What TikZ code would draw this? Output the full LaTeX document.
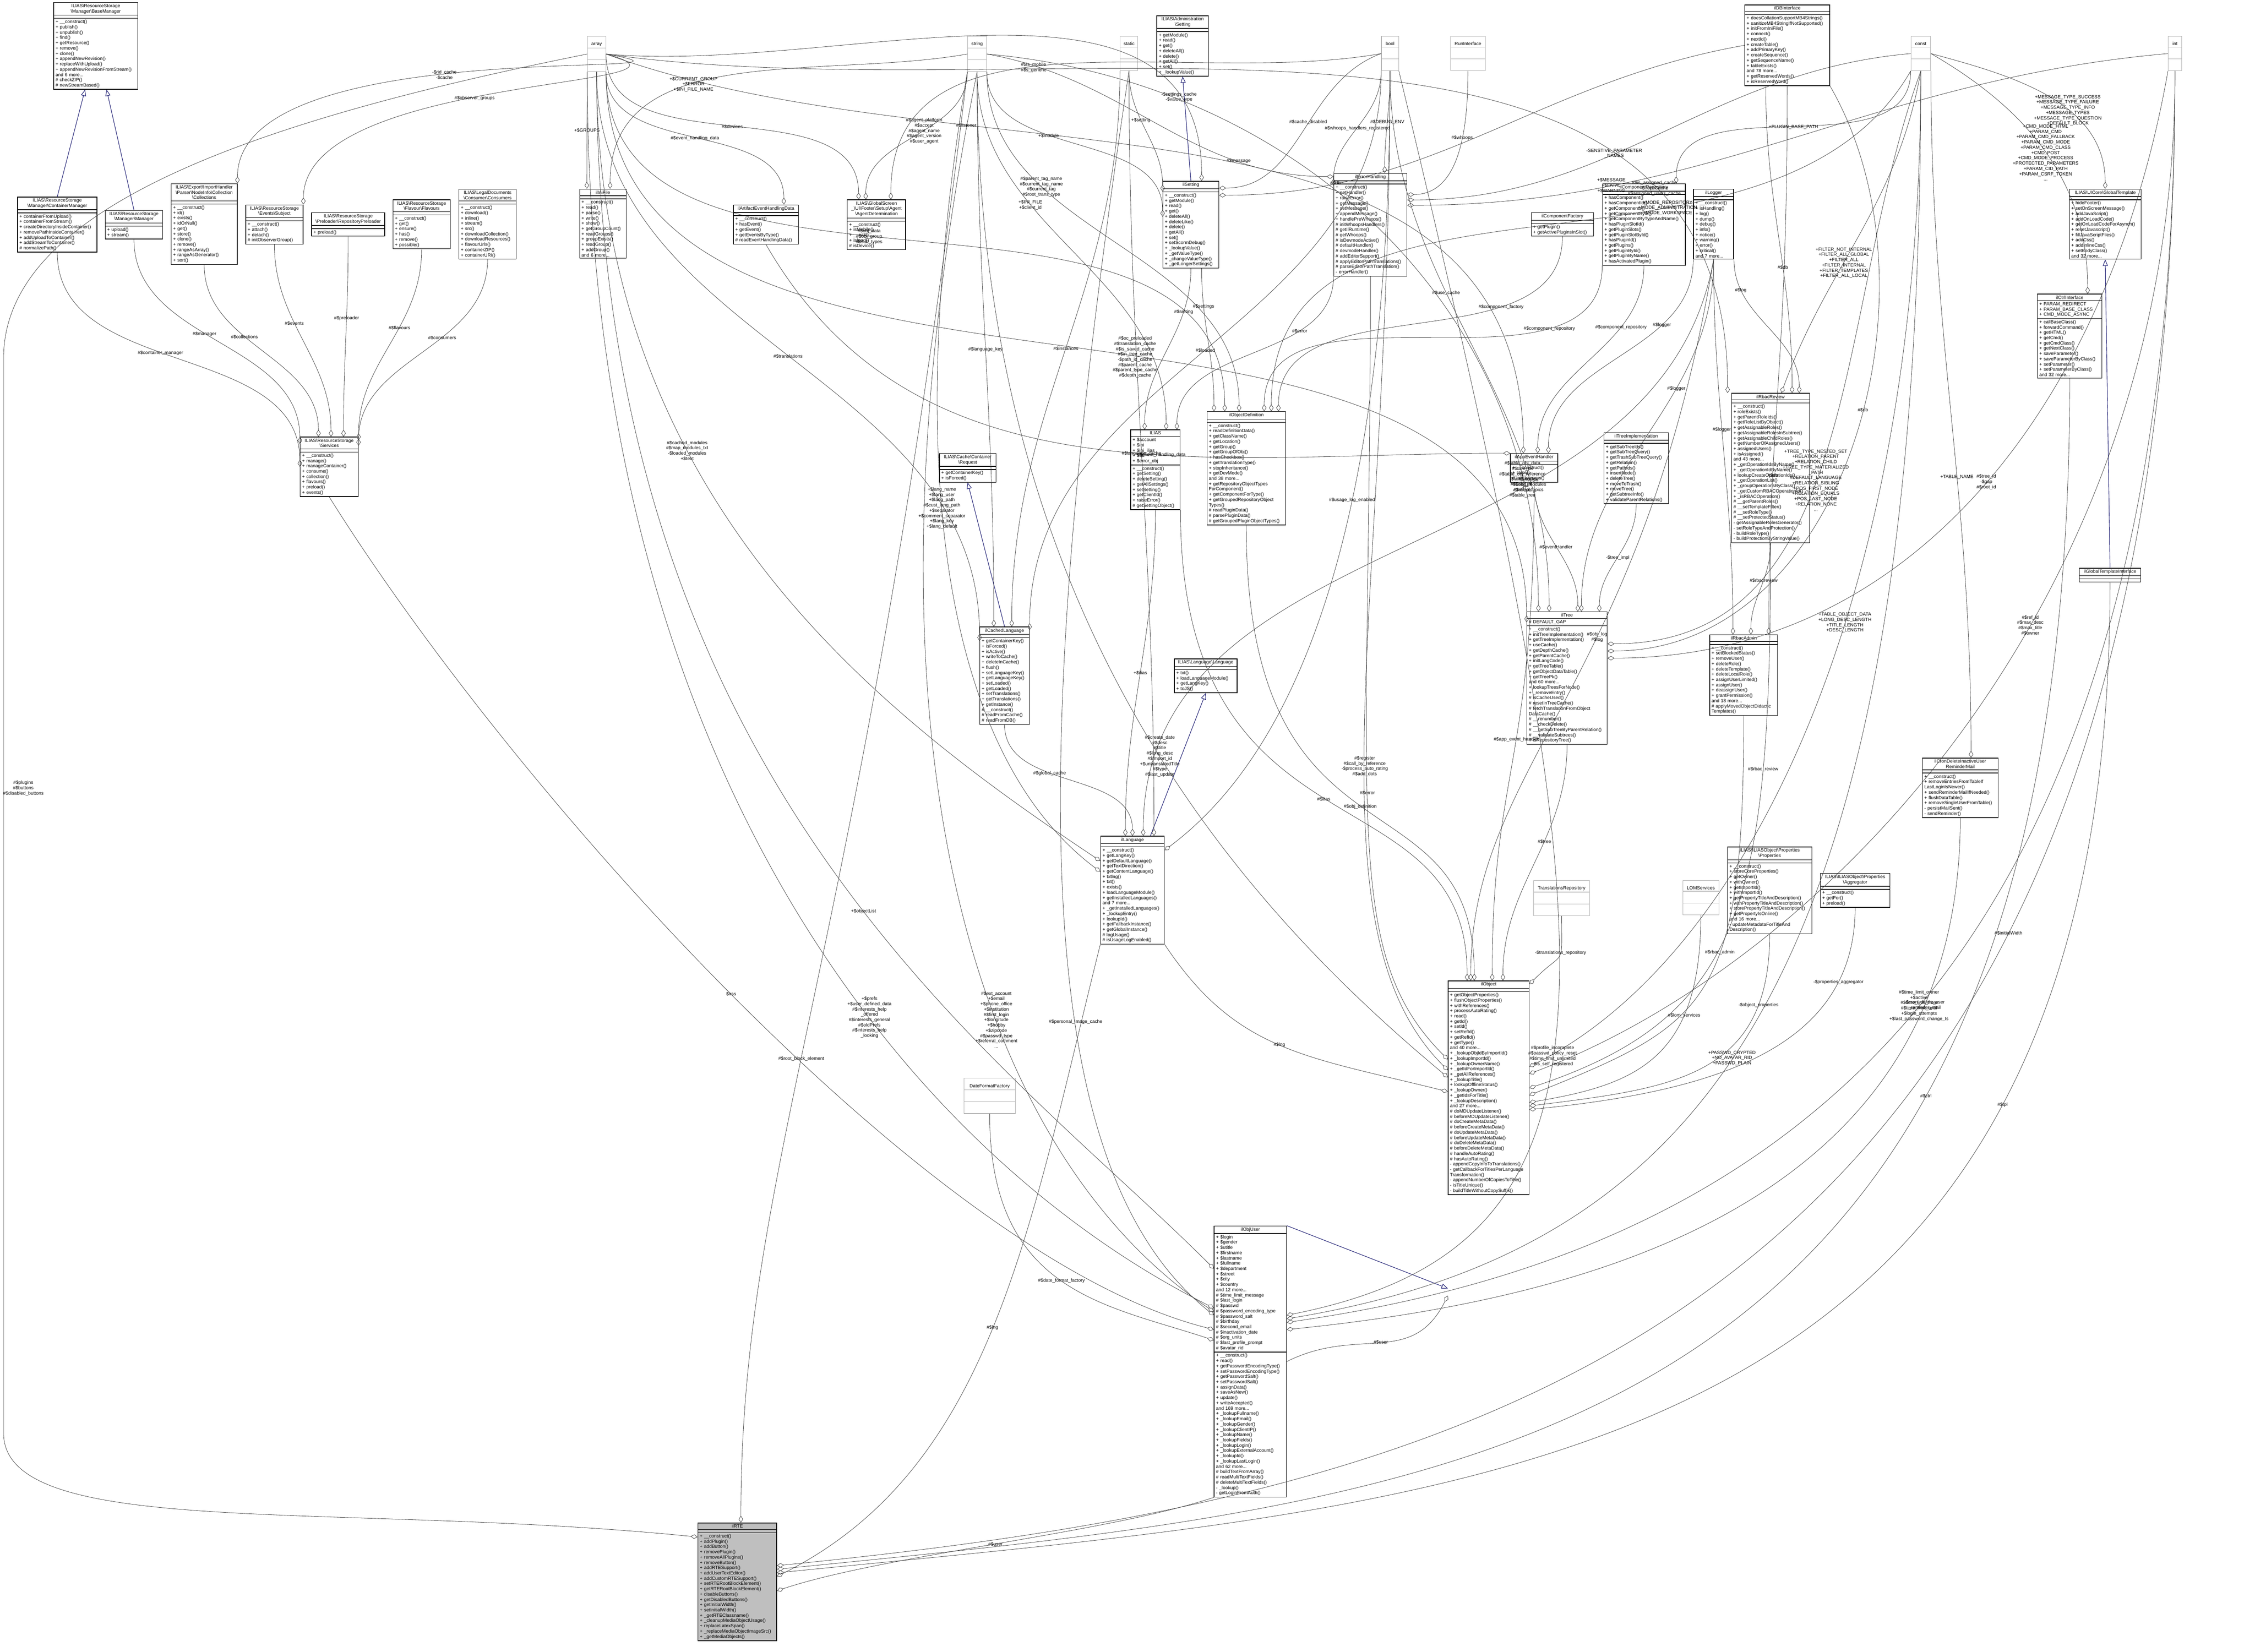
\documentclass[tikz,border=0pt]{standalone}
\usepackage{fontspec}
\setmainfont{Liberation Sans}
\usetikzlibrary{shapes.multipart,arrows.meta}
\definecolor{navy}{RGB}{25,25,112}
\definecolor{rtegray}{RGB}{191,191,191}
\newcommand\bs{\textbackslash}
\newcommand\fs{\fontsize{3.7}{4.2}\selectfont}
\tikzset{
 cls/.style={rectangle split,rectangle split parts=3,draw,line width=0.5pt,anchor=north west,font=\fs,inner xsep=1.5pt,inner ysep=1pt},
 tbox/.style={rectangle split,rectangle split parts=3,draw=black!30,line width=0.4pt,anchor=north west,font=\fs,inner sep=1pt,align=center},
 agg/.style={draw=black!75,line width=0.3pt,-{Diamond[open,length=5.5pt,width=3.5pt]}},
 inh/.style={draw=navy,line width=0.4pt,-{Triangle[open,length=5pt,width=4pt]}},
 lbl/.style={font=\fs,align=center,inner sep=0.5pt},
 vv/.style={out=-90,in=90},
}
\newcommand\C[7]{\node[cls,text width=#4cm-3pt] (#1) at (#2,-#3) {\centering #5\par\nodepart{second}\raggedright #6\par\nodepart{third}\raggedright #7\par};}
\newcommand\Ty[4]{\node[tbox,text width=#4cm-2pt] (#1) at (#2,-#3) {\rule{0pt}{6pt}#1\nodepart{second}\rule{0pt}{7pt}\nodepart{third}\rule{0pt}{7pt}};}
\begin{document}
\begin{tikzpicture}
\useasboundingbox (0,0) rectangle (62.94,-46.11);
% ---------- type boxes
\Ty{array}{16.39}{1.01}{0.51}
\Ty{string}{27.00}{1.01}{0.53}
\Ty{static}{31.26}{1.01}{0.49}
\Ty{bool}{38.55}{1.01}{0.48}
\node[tbox,text width=0.97cm-2pt] (RunInterface) at (40.48,-1.01) {\rule{0pt}{6pt}RunInterface\nodepart{second}\rule{0pt}{7pt}\nodepart{third}\rule{0pt}{7pt}};
\Ty{const}{53.33}{1.01}{0.55}
\Ty{int}{60.51}{1.01}{0.38}
\node[tbox,text width=1.43cm-2pt] (DateFormatFactory) at (26.90,-30.09) {\rule{0pt}{6pt}DateFormatFactory\nodepart{second}\rule{0pt}{7pt}\nodepart{third}\rule{0pt}{7pt}};
\node[tbox,text width=1.56cm-2pt] (TransRepo) at (42.80,-24.57) {\rule{0pt}{6pt}TranslationsRepository\nodepart{second}\rule{0pt}{7pt}\nodepart{third}\rule{0pt}{7pt}};
\node[tbox,text width=1.01cm-2pt] (LOM) at (46.96,-24.57) {\rule{0pt}{6pt}LOMServices\nodepart{second}\rule{0pt}{7pt}\nodepart{third}\rule{0pt}{7pt}};
% ---------- classes
\C{BaseManager}{1.49}{0.06}{2.35}{ILIAS\bs ResourceStorage\\\bs Manager\bs BaseManager}{\mbox{}}{+ \_\_construct()\\+ publish()\\+ unpublish()\\+ find()\\+ getResource()\\+ remove()\\+ clone()\\+ appendNewRevision()\\+ replaceWithUpload()\\+ appendNewRevisionFromStream()\\and 6 more...\\\# checkZIP()\\\# newStreamBased()}
\C{ContainerManager}{0.48}{5.49}{2.22}{ILIAS\bs ResourceStorage\\\bs Manager\bs ContainerManager}{\mbox{}}{+ containerFromUpload()\\+ containerFromStream()\\+ createDirectoryInsideContainer()\\+ removePathInsideContainer()\\+ addUploadToContainer()\\+ addStreamToContainer()\\\# normalizePath()}
\C{RSManager}{2.93}{5.86}{1.60}{ILIAS\bs ResourceStorage\\\bs Manager\bs Manager}{\mbox{}}{+ upload()\\+ stream()}
\C{Collections}{4.77}{5.12}{1.84}{ILIAS\bs Export\bs ImportHandler\\\bs Parser\bs NodeInfo\bs Collection\\\bs Collections}{\mbox{}}{+ \_\_construct()\\+ id()\\+ exists()\\+ idOrNull()\\+ get()\\+ store()\\+ clone()\\+ remove()\\+ rangeAsArray()\\+ rangeAsGenerator()\\+ sort()}
\C{Subject}{6.85}{5.71}{1.60}{ILIAS\bs ResourceStorage\\\bs Events\bs Subject}{\mbox{}}{+ \_\_construct()\\+ attach()\\+ detach()\\\# initObserverGroup()}
\C{Preloader}{8.69}{5.93}{2.04}{ILIAS\bs ResourceStorage\\\bs Preloader\bs RepositoryPreloader}{\mbox{}}{+ preload()}
\C{Flavours}{10.96}{5.57}{1.60}{ILIAS\bs ResourceStorage\\\bs Flavour\bs Flavours}{\mbox{}}{+ \_\_construct()\\+ get()\\+ ensure()\\+ has()\\+ remove()\\+ possible()}
\C{Consumers}{12.80}{5.27}{1.60}{ILIAS\bs LegalDocuments\\\bs Consumer\bs Consumers}{\mbox{}}{+ \_\_construct()\\+ download()\\+ inline()\\+ stream()\\+ src()\\+ downloadCollection()\\+ downloadResources()\\+ flavourUrls()\\+ containerZIP()\\+ containerURI()}
\C{Services}{8.37}{12.19}{1.62}{ILIAS\bs ResourceStorage\\\bs Services}{\mbox{}}{+ \_\_construct()\\+ manage()\\+ manageContainer()\\+ consume()\\+ collection()\\+ flavours()\\+ preload()\\+ events()}
\C{ilIniFile}{16.17}{5.27}{1.30}{ilIniFile}{\mbox{}}{+ \_\_construct()\\+ read()\\+ parse()\\+ write()\\+ show()\\+ getGroupCount()\\+ readGroups()\\+ groupExists()\\+ readGroup()\\+ addGroup()\\and 6 more...}
\C{ArtEvt}{20.46}{5.71}{1.82}{ilArtifactEventHandlingData}{\mbox{}}{+ \_\_construct()\\+ hasEvent()\\+ getEvent()\\+ getEventsByType()\\\# readEventHandlingData()}
\C{Agent}{23.64}{5.57}{1.63}{ILIAS\bs GlobalScreen\\\_\bs UI\bs Footer\bs Setup\bs Agent\\\bs AgentDetermination}{\mbox{}}{+ \_\_construct()\\+ isMobile()\\+ \_\_call()\\+ isIpad()\\\# isDevice()}
\C{AdminSetting}{32.28}{0.43}{1.44}{ILIAS\bs Administration\\\bs Setting}{\mbox{}}{+ getModule()\\+ read()\\+ get()\\+ deleteAll()\\+ delete()\\+ getAll()\\+ set()\\+ \_lookupValue()}
\C{ilSetting}{32.45}{5.05}{1.56}{ilSetting}{\mbox{}}{+ \_\_construct()\\+ getModule()\\+ read()\\+ get()\\+ deleteAll()\\+ deleteLike()\\+ delete()\\+ getAll()\\+ set()\\+ setScormDebug()\\+ \_lookupValue()\\+ \_getValueType()\\+ \_changeValueType()\\+ \_getLongerSettings()}
\C{ilErrorHandling}{37.22}{4.83}{2.04}{ilErrorHandling}{\mbox{}}{+ \_\_construct()\\+ getHandler()\\+ raiseError()\\+ getMessage()\\+ setMessage()\\+ appendMessage()\\+ handlePreWhoops()\\\# initWhoopsHandlers()\\\# getIlRuntime()\\\# getWhoops()\\\# isDevmodeActive()\\\# defaultHandler()\\\# devmodeHandler()\\\# addEditorSupport()\\\# applyEditorPathTranslations()\\\# parseEditorPathTranslation()\\- errorHandler()}
\C{ilComponentFactory}{42.73}{5.93}{1.74}{ilComponentFactory}{\mbox{}}{+ getPlugin()\\+ getActivePluginsInSlot()}
\C{ilComponentRepository}{44.72}{5.12}{2.31}{ilComponentRepository}{\mbox{}}{+ hasComponent()\\+ hasComponentId()\\+ getComponents()\\+ getComponentById()\\+ getComponentByTypeAndName()\\+ hasPluginSlotId()\\+ getPluginSlots()\\+ getPluginSlotById()\\+ hasPluginId()\\+ getPlugins()\\+ getPluginById()\\+ getPluginByName()\\+ hasActivatedPlugin()}
\C{ilLogger}{47.26}{5.27}{1.12}{ilLogger}{\mbox{}}{+ \_\_construct()\\+ isHandling()\\+ log()\\+ dump()\\+ debug()\\+ info()\\+ notice()\\+ warning()\\+ error()\\+ critical()\\and 7 more...}
\C{ilDBInterface}{48.69}{0.13}{2.37}{ilDBInterface}{\mbox{}}{+ doesCollationSupportMB4Strings()\\+ sanitizeMB4StringIfNotSupported()\\+ initFromIniFile()\\+ connect()\\+ nextId()\\+ createTable()\\+ addPrimaryKey()\\+ createSequence()\\+ getSequenceName()\\+ tableExists()\\and 78 more...\\+ getReservedWords()\\+ isReservedWord()}
\C{GlobalTemplate}{57.75}{5.27}{2.00}{ILIAS\bs UICore\bs GlobalTemplate}{\mbox{}}{+ hideFooter()\\+ setOnScreenMessage()\\+ addJavaScript()\\+ addOnLoadCode()\\+ getOnLoadCodeForAsynch()\\+ resetJavascript()\\+ fillJavaScriptFiles()\\+ addCss()\\+ addInlineCss()\\+ setBodyClass()\\and 32 more...}
\C{ilCtrlInterface}{56.86}{8.20}{1.80}{ilCtrlInterface}{+ PARAM\_REDIRECT\\+ PARAM\_BASE\_CLASS\\+ CMD\_MODE\_ASYNC}{+ callBaseClass()\\+ forwardCommand()\\+ getHTML()\\+ getCmd()\\+ getCmdClass()\\+ getNextClass()\\+ saveParameter()\\+ saveParameterByClass()\\+ setParameter()\\+ setParameterByClass()\\and 32 more...}
\C{CacheRequest}{26.21}{12.65}{1.58}{ILIAS\bs Cache\bs Container\\\bs Request}{\mbox{}}{+ getContainerKey()\\+ isForced()}
\C{ilCachedLanguage}{27.34}{17.49}{1.38}{ilCachedLanguage}{\mbox{}}{+ getContainerKey()\\+ isForced()\\+ isActive()\\+ writeToCache()\\+ deleteInCache()\\+ flush()\\+ setLanguageKey()\\+ getLanguageKey()\\+ setLoaded()\\+ getLoaded()\\+ setTranslations()\\+ getTranslations()\\+ getInstance()\\\# \_\_construct()\\\# readFromCache()\\\# readFromDB()}
\C{ILIAS}{31.55}{11.99}{1.38}{ILIAS}{+ \$account\\+ \$ini\\+ \$ini\_ilias\\+ \$db\\+ \$error\_obj}{+ \_\_construct()\\+ getSetting()\\+ deleteSetting()\\+ getAllSettings()\\+ setSetting()\\+ getClientId()\\+ raiseError()\\\# getSettingObject()}
\C{ilObjDef}{33.68}{11.48}{2.19}{ilObjectDefinition}{\mbox{}}{+ \_\_construct()\\+ readDefinitionData()\\+ getClassName()\\+ getLocation()\\+ getGroup()\\+ getGroupOfObj()\\+ hasCheckbox()\\+ getTranslationType()\\+ stopInheritance()\\+ getDevMode()\\and 38 more...\\+ getRepositoryObjectTypes\\ForComponent()\\+ getComponentForType()\\+ getGroupedRepositoryObject\\Types()\\\# readPluginData()\\\# parsePluginData()\\\# getGroupedPluginObjectTypes()}
\C{LangLanguage}{32.77}{18.38}{1.75}{ILIAS\bs Language\bs Language}{\mbox{}}{+ txt()\\+ loadLanguageModule()\\+ getLangKey()\\+ toJS()}
\C{ilAppEventHandler}{42.15}{12.65}{1.32}{ilAppEventHandler}{\mbox{}}{+ \_\_construct()\\+ raise()\\\# initListeners()}
\C{ilTree}{42.61}{17.07}{2.24}{ilTree}{\# DEFAULT\_GAP}{+ \_\_construct()\\+ initTreeImplementation()\\+ getTreeImplementation()\\+ useCache()\\+ getDepthCache()\\+ getParentCache()\\+ initLangCode()\\+ getTreeTable()\\+ getObjectDataTable()\\+ getTreePk()\\and 60 more...\\+ lookupTreesForNode()\\+ \_removeEntry()\\\# isCacheUsed()\\\# resetInTreeCache()\\\# fetchTranslationFromObject\\DataCache()\\\# \_\_renumber()\\\# \_\_checkDelete()\\\# \_\_getSubTreeByParentRelation()\\\# \_\_validateSubtrees()\\\# isRepositoryTree()}
\C{ilTreeImpl}{44.76}{12.07}{1.80}{ilTreeImplementation}{\mbox{}}{+ getSubTreeIds()\\+ getSubTreeQuery()\\+ getTrashSubTreeQuery()\\+ getRelation()\\+ getPathIds()\\+ insertNode()\\+ deleteTree()\\+ moveToTrash()\\+ moveTree()\\+ getSubtreeInfo()\\+ validateParentRelations()}
\C{ilRbacReview}{48.32}{10.97}{2.18}{ilRbacReview}{\mbox{}}{+ \_\_construct()\\+ roleExists()\\+ getParentRoleIds()\\+ getRoleListByObject()\\+ getAssignableRoles()\\+ getAssignableRolesInSubtree()\\+ getAssignableChildRoles()\\+ getNumberOfAssignedUsers()\\+ assignedUsers()\\+ isAssigned()\\and 43 more...\\+ \_getOperationIdsByName()\\+ \_getOperationIdByName()\\+ lookupCreateOperationIds()\\+ \_getOperationList()\\+ \_groupOperationsByClass()\\+ \_getCustomRBACOperationId()\\+ \_isRBACOperation()\\\# \_\_getParentRoles()\\\# \_\_setTemplateFilter()\\\# \_\_setRoleType()\\\# \_\_setProtectedStatus()\\- getAssignableRolesGenerator()\\- setRoleTypeAndProtection()\\- buildRoleType()\\- buildProtectionByStringValue()}
\C{ilRbacAdmin}{47.71}{17.71}{1.90}{ilRbacAdmin}{\mbox{}}{+ \_\_construct()\\+ setBlockedStatus()\\+ removeUser()\\+ deleteRole()\\+ deleteTemplate()\\+ deleteLocalRole()\\+ assignUserLimited()\\+ assignUser()\\+ deassignUser()\\+ grantPermission()\\and 18 more...\\\# applyMovedObjectDidactic\\Templates()}
\C{ilGTI}{58.03}{15.85}{1.71}{ilGlobalTemplateInterface}{\mbox{}}{\mbox{}}
\C{ilLanguage}{30.71}{23.33}{1.78}{ilLanguage}{\mbox{}}{+ \_\_construct()\\+ getLangKey()\\+ getDefaultLanguage()\\+ getTextDirection()\\+ getContentLanguage()\\+ txtlng()\\+ txt()\\+ exists()\\+ loadLanguageModule()\\+ getInstalledLanguages()\\and 7 more...\\+ \_getInstalledLanguages()\\+ \_lookupEntry()\\+ lookupId()\\+ getFallbackInstance()\\+ getGlobalInstance()\\\# logUsage()\\\# isUsageLogEnabled()}
\C{ilObject}{40.41}{27.37}{2.26}{ilObject}{\mbox{}}{+ getObjectProperties()\\+ flushObjectProperties()\\+ withReferences()\\+ processAutoRating()\\+ read()\\+ getId()\\+ setId()\\+ setRefId()\\+ getRefId()\\+ getType()\\and 40 more...\\+ \_lookupObjIdByImportId()\\+ \_lookupImportId()\\+ \_lookupOwnerName()\\+ \_getIdForImportId()\\+ \_getAllReferences()\\+ \_lookupTitle()\\+ lookupOfflineStatus()\\+ \_lookupOwner()\\+ \_getIdsForTitle()\\+ \_lookupDescription()\\and 27 more...\\\# doMDUpdateListener()\\\# beforeMDUpdateListener()\\\# doCreateMetaData()\\\# beforeCreateMetaData()\\\# doUpdateMetaData()\\\# beforeUpdateMetaData()\\\# doDeleteMetaData()\\\# beforeDeleteMetaData()\\\# handleAutoRating()\\\# hasAutoRating()\\- appendCopyInfoToTranslations()\\- getCallbackForTitlesPerLanguage\\Transformation()\\- appendNumberOfCopiesToTitle()\\- isTitleUnique()\\- buildTitleWithoutCopySuffix()}
\C{Properties}{48.21}{23.63}{2.35}{ILIAS\bs ILIASObject\bs Properties\\\bs Properties}{\mbox{}}{+ \_\_construct()\\+ storeCoreProperties()\\+ getOwner()\\+ withOwner()\\+ getImportId()\\+ withImportId()\\+ getPropertyTitleAndDescription()\\+ withPropertyTitleAndDescription()\\+ storePropertyTitleAndDescription()\\+ getPropertyIsOnline()\\and 16 more...\\- updateMetadataForTitleAnd\\Description()}
\C{Aggregator}{50.80}{24.37}{1.94}{ILIAS\bs ILIASObject\bs Properties\\\bs Aggregator}{\mbox{}}{+ \_\_construct()\\+ getFor()\\+ preload()}
\C{ilCron}{53.65}{21.15}{2.11}{ilCronDeleteInactiveUser\\ReminderMail}{\mbox{}}{+ \_\_construct()\\+ removeEntriesFromTableIf\\LastLoginIsNewer()\\+ sendReminderMailIfNeeded()\\+ flushDataTable()\\+ removeSingleUserFromTable()\\- persistMailSent()\\- sendReminder()}
\C{ilObjUser}{33.88}{34.21}{2.02}{ilObjUser}{+ \$login\\+ \$gender\\+ \$utitle\\+ \$firstname\\+ \$lastname\\+ \$fullname\\+ \$department\\+ \$street\\+ \$city\\+ \$country\\and 12 more...\\\# \$time\_limit\_message\\\# \$last\_login\\\# \$passwd\\\# \$password\_encoding\_type\\\# \$password\_salt\\\# \$birthday\\\# \$second\_email\\\# \$inactivation\_date\\\# \$org\_units\\\# \$last\_profile\_prompt\\\# \$avatar\_rid}{+ \_\_construct()\\+ read()\\+ getPasswordEncodingType()\\+ setPasswordEncodingType()\\+ getPasswordSalt()\\+ setPasswordSalt()\\+ assignData()\\+ saveAsNew()\\+ update()\\+ writeAccepted()\\and 169 more...\\+ \_lookupFullname()\\+ \_lookupEmail()\\+ \_lookupGender()\\+ \_lookupClientIP()\\+ \_lookupName()\\+ \_lookupFields()\\+ \_lookupLogin()\\+ \_lookupExternalAccount()\\+ \_lookupId()\\+ \_lookupLastLogin()\\and 62 more...\\\# buildTextFromArray()\\\# readMultiTextFields()\\\# deleteMultiTextFields()\\- \_lookup()\\- getLoginFromAuth()}
\node[cls,fill=rtegray,text width=2.20cm-3pt] (ilRTE) at (19.47,-42.50) {\centering ilRTE\par\nodepart{second}\mbox{}\nodepart{third}\raggedright + \_\_construct()\\+ addPlugin()\\+ addButton()\\+ removePlugin()\\+ removeAllPlugins()\\+ removeButton()\\+ addRTESupport()\\+ addUserTextEditor()\\+ addCustomRTESupport()\\+ setRTERootBlockElement()\\+ getRTERootBlockElement()\\+ disableButtons()\\+ getDisabledButtons()\\+ getInitialWidth()\\+ setInitialWidth()\\+ \_getRTEClassname()\\+ \_cleanupMediaObjectUsage()\\+ replaceLatexSpan()\\+ \_replaceMediaObjectImageSrc()\\+ \_getMediaObjects()\par};
% ---------- inheritance
\draw[inh] (ContainerManager.north) -- ([xshift=-0.3cm]BaseManager.south);
\draw[inh] (RSManager.north) -- ([xshift=0.3cm]BaseManager.south);
\draw[inh] (ilSetting.north) -- (AdminSetting.south);
\draw[inh] (ilCachedLanguage.north) -- (CacheRequest.south);
\draw[inh] ([xshift=0.5cm]ilLanguage.north) -- (LangLanguage.south);
\draw[inh] (ilGTI.north) -- (GlobalTemplate.south);
\draw[inh] (ilObjUser.north east) -- ([yshift=-5.6cm]ilObject.west);
% ---------- aggregation
\draw[agg] (array.east) to[out=-10,in=90] node[lbl,pos=0.55]{-\$rid\_cache\\-\$cache} (Collections.north east);
\draw[agg] (array.east) to[out=-15,in=90] node[lbl,pos=0.55]{\#\$observer\_groups} (Subject.north east);
\draw[agg] (array.south west) to[vv] node[lbl,pos=0.5]{+\$GROUPS} ([xshift=-0.45cm]ilIniFile.north);
\draw[agg] (string.west) to[out=190,in=90] node[lbl,pos=0.6]{+\$CURRENT\_GROUP\\+\$ERROR\\+\$INI\_FILE\_NAME} ([xshift=0.2cm]ilIniFile.north);
\draw[agg] (array.south east) to[vv] node[lbl,pos=0.5]{\#\$event\_handling\_data} ([xshift=0.5cm]ArtEvt.north);
\draw[agg] (array.east) to[vv] node[lbl,pos=0.5]{\#\$devices} ([xshift=-0.5cm]Agent.north);
\draw[agg] (string.south west) to[vv] node[lbl,pos=0.45]{\#\$agent\_platform\\\#\$accept\\\#\$agent\_name\\\#\$agent\_version\\\#\$user\_agent} ([xshift=-0.3cm]Agent.north);
\draw[agg] (bool.west) to[out=190,in=90] node[lbl,pos=0.55]{\#\$is\_mobile\\\#\$s\_generic} ([xshift=0.4cm]Agent.north);
\draw[agg] (ContainerManager.south) to[vv] node[lbl,pos=0.45]{\#\$container\_manager} (Services.west);
\draw[agg] (RSManager.south) to[vv] node[lbl,pos=0.45]{\#\$manager} ([yshift=-0.2cm]Services.north west);
\draw[agg] (Collections.south) to[vv] node[lbl,pos=0.4]{\#\$collections} ([xshift=-0.3cm]Services.north);
\draw[agg] (Subject.south) to[vv] node[lbl,pos=0.4]{\#\$events} ([xshift=0.05cm]Services.north);
\draw[agg] (Preloader.south) to[vv] node[lbl,pos=0.4]{\#\$preloader} ([xshift=0.4cm]Services.north);
\draw[agg] (Flavours.south) to[vv] node[lbl,pos=0.4]{\#\$flavours} ([yshift=-0.1cm]Services.north east);
\draw[agg] (Consumers.south) to[vv] node[lbl,pos=0.4]{\#\$consumers} ([yshift=-0.25cm]Services.north east);
\draw[agg] (static.south) to[vv] node[lbl,pos=0.4]{+\$setting} ([yshift=-0.3cm]ilSetting.north west);
\draw[agg] (string.south east) to[vv] node[lbl,pos=0.4]{+\$module} ([yshift=-1.0cm]ilSetting.north west);
\draw[agg] (array.east) to[out=-5,in=90] node[lbl,pos=0.85]{-\$settings\_cache\\-\$value\_type} ([xshift=0.3cm]ilSetting.north);
\draw[agg] (bool.west) to[out=200,in=0] node[lbl,pos=0.45]{\#\$cache\_disabled} ([yshift=-0.2cm]ilSetting.north east);
\draw[agg] (ilDBInterface.west) to[out=190,in=0] node[lbl,pos=0.8]{\#\$db} ([yshift=-0.4cm]ilSetting.north east);
\draw[agg] (string.east) to[out=-10,in=180] node[lbl,pos=0.75]{\#\$message} ([yshift=-0.1cm]ilErrorHandling.north west);
\draw[agg] (bool.south west) to[vv] node[lbl,pos=0.5]{\#\$whoops\_handlers\_registered} ([yshift=-0.35cm]ilErrorHandling.north west);
\draw[agg] (bool.south) to[vv] node[lbl,pos=0.5]{\#\$DEBUG\_ENV} ([xshift=0.4cm]ilErrorHandling.north);
\draw[agg] (RunInterface.south) to[out=-90,in=0] node[lbl,pos=0.4]{\#\$whoops} ([yshift=-0.6cm]ilErrorHandling.north east);
\draw[agg] (const.west) to[out=185,in=0] node[lbl,pos=0.6]{-SENSTIVE\_PARAMETER\\\_NAMES} ([yshift=-0.75cm]ilErrorHandling.north east);
\draw[agg] (int.west) to[out=185,in=0] node[lbl,pos=0.75]{+\$MESSAGE\\+\$FATAL\\+\$WARNING} ([yshift=-0.9cm]ilErrorHandling.north east);
\draw[agg] (const.south west) to[vv] node[lbl,pos=0.5]{+PLUGIN\_BASE\_PATH} ([xshift=0.9cm]ilComponentRepository.north);
\draw[agg] (array.east) to[out=-8,in=90] node[lbl,pos=0.8]{\#\$is\_assigned\_cache\\-\$\_opsCache\\\#\$assigned\_users\_cache} ([xshift=-0.1cm]ilRbacReview.north west);
\draw[agg] (const.south) to[out=-100,in=70] node[lbl,pos=0.6]{+FILTER\_NOT\_INTERNAL\\+FILTER\_ALL\_GLOBAL\\+FILTER\_ALL\\+FILTER\_INTERNAL\\+FILTER\_TEMPLATES\\+FILTER\_ALL\_LOCAL} ([xshift=0.3cm]ilRbacReview.north);
\draw[agg] (const.east) to[out=-30,in=90] node[lbl,pos=0.5]{+CMD\_MODE\_HTML\\+PARAM\_CMD\\+PARAM\_CMD\_FALLBACK\\+PARAM\_CMD\_MODE\\+PARAM\_CMD\_CLASS\\+CMD\_POST\\+CMD\_MODE\_PROCESS\\+PROTECTED\_PARAMETERS\\+PARAM\_CID\_PATH\\+PARAM\_CSRF\_TOKEN\\...} ([xshift=0.5cm]ilCtrlInterface.north);
\draw[agg] (const.east) to[out=-15,in=90] node[lbl,pos=0.6]{+MESSAGE\_TYPE\_SUCCESS\\+MESSAGE\_TYPE\_FAILURE\\+MESSAGE\_TYPE\_INFO\\+MESSAGE\_TYPES\\+MESSAGE\_TYPE\_QUESTION\\+DEFAULT\_BLOCK} (GlobalTemplate.north);
\draw[agg] (const.south west) to[out=-120,in=90] node[lbl,pos=0.35]{+MODE\_REPOSITORY\\+MODE\_ADMINISTRATION\\+MODE\_WORKSPACE} ([xshift=0.7cm]ilObjDef.north);
\draw[agg] (array.south east) to[vv] node[lbl,pos=0.45]{\#\$obj\_data\\\#\$obj\_group\\\#\$sub\_types} ([xshift=-0.6cm]ilObjDef.north);
\draw[agg] (array.east) to[out=-20,in=90] node[lbl,pos=0.3]{\#\$listener} ([xshift=-0.3cm]ilAppEventHandler.north);
\draw[agg] (string.south) to[vv] node[lbl,pos=0.35]{+\$INI\_FILE\\+\$client\_id} ([xshift=0.3cm]ILIAS.north);
\draw[agg] (string.south east) to[vv] node[lbl,pos=0.3]{\#\$parent\_tag\_name\\\#\$current\_tag\_name\\\#\$current\_tag\\\#\$root\_trans\_type} ([xshift=-0.2cm]ilObjDef.north);
\draw[agg] (array.south) to[vv] node[lbl,pos=0.5]{\#\$translations} ([yshift=-0.4cm]ilCachedLanguage.north west);
\draw[agg] (array.south east) to[vv] node[lbl,pos=0.55]{\#\$oc\_preloaded\\\#\$translation\_cache\\\#\$is\_saved\_cache\\\#\$in\_tree\_cache\\-\$path\_id\_cache\\\#\$parent\_cache\\\#\$parent\_type\_cache\\\#\$depth\_cache} ([yshift=-0.3cm]ilTree.north west);
\draw[agg] (string.south) to[vv] node[lbl,pos=0.5]{\#\$language\_key} ([xshift=-0.3cm]ilCachedLanguage.north);
\draw[agg] (static.south west) to[vv] node[lbl,pos=0.5]{\#\$instances} ([xshift=0.2cm]ilCachedLanguage.north);
\draw[agg] (bool.south west) to[vv] node[lbl,pos=0.5]{\#\$loaded} ([yshift=-0.1cm]ilCachedLanguage.north east);
\draw[agg] (ArtEvt.south) to[out=-60,in=180] node[lbl,pos=0.6]{\#\$event\_handling\_data} (ilAppEventHandler.north west);
\draw[agg] (ilSetting.south) to[vv] node[lbl,pos=0.25]{\#\$setting} ([xshift=-0.3cm]ILIAS.north);
\draw[agg] ([xshift=0.3cm]ilSetting.south) to[vv] node[lbl,pos=0.25]{\#\$settings} ([xshift=-0.9cm]ilObjDef.north);
\draw[agg] (ilErrorHandling.south west) to[vv] node[lbl,pos=0.3]{\#\$error} ([xshift=0.6cm]ILIAS.north);
\draw[agg] (string.east) to[out=-5,in=90] node[lbl,pos=0.85]{\#\$table\_obj\_data\\\#\$tree\_pk\\\#\$table\_obj\_reference\\-\$lang\_code\\\#\$obj\_pk\\\#\$ref\_pk\\\#\$table\_tree} ([xshift=-0.8cm]ilTree.north);
\draw[agg] (bool.south) to[vv] node[lbl,pos=0.4]{\#\$use\_cache} ([xshift=-0.5cm]ilTree.north);
\draw[agg] (ilComponentRepository.south west) to[vv] node[lbl,pos=0.25]{\#\$component\_repository} ([xshift=0.5cm]ilObjDef.north);
\draw[agg] (ilComponentFactory.south) to[vv] node[lbl,pos=0.3]{\#\$component\_factory} ([xshift=0.9cm]ilObjDef.north);
\draw[agg] (ilComponentRepository.south) to[vv] node[lbl,pos=0.3]{\#\$component\_repository} ([xshift=0.1cm]ilAppEventHandler.north);
\draw[agg] (ilLogger.south west) to[vv] node[lbl,pos=0.3]{\#\$logger} ([xshift=0.4cm]ilAppEventHandler.north);
\draw[agg] ([xshift=-0.6cm]ilDBInterface.south) to[vv] node[lbl,pos=0.6]{\#\$db} ([xshift=0.6cm]ilRbacReview.north);
\draw[agg] (ilLogger.south east) to[vv] node[lbl,pos=0.2]{\#\$log} ([xshift=0.8cm]ilRbacReview.north);
\draw[agg] (const.south) to[out=-110,in=0] node[lbl,pos=0.55]{+TREE\_TYPE\_NESTED\_SET\\+RELATION\_PARENT\\+RELATION\_CHILD\\+TREE\_TYPE\_MATERIALIZED\\\_PATH\\\#DEFAULT\_LANGUAGE\\+RELATION\_SIBLING\\+POS\_FIRST\_NODE\\+RELATION\_EQUALS\\+POS\_LAST\_NODE\\+RELATION\_NONE\\...} ([yshift=-0.9cm]ilTree.north east);
\draw[agg] (ilDBInterface.south east) to[out=-60,in=0] node[lbl,pos=0.45]{\#\$db} ([yshift=-1.1cm]ilTree.north east);
\draw[agg] (int.south west) to[out=-100,in=0] node[lbl,pos=0.5]{\#\$tree\_id\\-\$gap\\\#\$root\_id} ([yshift=-1.3cm]ilTree.north east);
\draw[agg] (const.south east) to[vv] node[lbl,pos=0.6]{+TABLE\_NAME} ([xshift=0.3cm]ilCron.north);
\draw[agg] (ilLogger.south) to[out=-100,in=90] node[lbl,pos=0.35]{\#\$lng\_log\\\#\$used\_modules\\\#\$used\_topics} ([xshift=0.3cm]ilLanguage.north);
\draw[agg] (array.south) .. controls +(0,-12) and +(-6,4) .. node[lbl,pos=0.35]{\#\$cached\_modules\\\#\$map\_modules\_txt\\-\$loaded\_modules\\+\$text} ([yshift=-0.7cm]ilLanguage.north west);
\draw[agg] (string.south west) .. controls +(-2,-12) and +(-4,3) .. node[lbl,pos=0.4]{+\$lang\_name\\+\$lang\_user\\+\$lang\_path\\\#\$cust\_lang\_path\\+\$separator\\+\$comment\_separator\\+\$lang\_key\\+\$lang\_default} ([yshift=-1.0cm]ilLanguage.north west);
\draw[agg] (bool.south) .. controls +(0,-12) and +(4,3) .. node[lbl,pos=0.4]{\#\$usage\_log\_enabled} ([yshift=-0.4cm]ilLanguage.north east);
\draw[agg] (ilLogger.south) to[vv] node[lbl,pos=0.35]{\#\$logger} ([xshift=0.4cm]ilTree.north);
\draw[agg] (array.south) .. controls +(0,-20) and +(-6,6) .. node[lbl,pos=0.55]{+\$objectList} ([yshift=-1.2cm]ilObjUser.north west);
\draw[agg] (string.south) .. controls +(0,-15) and +(-6,5) .. node[lbl,pos=0.55]{\#\$create\_date\\\#\$desc\\\#\$title\\\#\$long\_desc\\\#\$import\_id\\+\$untranslatedTitle\\\#\$type\\\#\$last\_update} ([yshift=-2.7cm]ilObject.north west);
\draw[agg] (static.south) to[vv] node[lbl,pos=0.5]{\#\$language\_cache} ([xshift=0.6cm]ilLanguage.north);
\draw[agg] (bool.south) .. controls +(0,-15) and +(-4,4) .. node[lbl,pos=0.55]{\#\$register\\\#\$call\_by\_reference\\-\$process\_auto\_rating\\\#\$add\_dots} ([yshift=-2.5cm]ilObject.north west);
\draw[agg] (ilAppEventHandler.south) to[vv] node[lbl,pos=0.5]{\#\$eventHandler} ([xshift=0.3cm]ilTree.north);
\draw[agg] (ilTreeImpl.south) to[vv] node[lbl,pos=0.5]{-\$tree\_impl} ([xshift=0.9cm]ilTree.north);
\draw[agg] (ilRbacReview.south) to[vv] node[lbl,pos=0.4]{\#\$rbacreview} ([xshift=0.2cm]ilRbacAdmin.north);
\draw[agg] (ilDBInterface.south) .. controls +(0,-8) and +(0,6) .. node[lbl,pos=0.7]{\#\$db} ([xshift=0.7cm]ilRbacAdmin.north);
\draw[agg] (ilLogger.south) to[vv] node[lbl,pos=0.45]{\#\$logger} ([xshift=-0.3cm]ilRbacAdmin.north);
\draw[agg] (const.south) .. controls +(0,-15) and +(6,3) .. node[lbl,pos=0.4]{+TABLE\_OBJECT\_DATA\\+LONG\_DESC\_LENGTH\\+TITLE\_LENGTH\\+DESC\_LENGTH} ([yshift=-2.4cm]ilObject.north east);
\draw[agg] (int.south) .. controls +(0,-15) and +(8,3) .. node[lbl,pos=0.4]{\#\$ref\_id\\\#\$max\_desc\\\#\$max\_title\\\#\$owner} ([yshift=-2.6cm]ilObject.north east);
\draw[agg] (array.south west) .. controls +(0,-20) and +(-8,4) .. node[lbl,pos=0.6]{+\$prefs\\+\$user\_defined\_data\\\#\$interests\_help\\\_offered\\\#\$interests\_general\\\#\$oldPrefs\\\#\$interests\_help\\\_looking} ([yshift=-2.3cm]ilObjUser.north west);
\draw[agg] (string.south) .. controls +(-4,-20) and +(-6,4) .. node[lbl,pos=0.6]{\#\$ext\_account\\+\$email\\+\$phone\_office\\+\$institution\\\#\$first\_login\\+\$longitude\\+\$hobby\\+\$zipcode\\\#\$passwd\_type\\+\$referral\_comment\\...} ([yshift=-2.4cm]ilObjUser.north west);
\draw[agg] (static.south) .. controls +(-3,-20) and +(-5,4) .. node[lbl,pos=0.6]{\#\$personal\_image\_cache} ([yshift=-2.5cm]ilObjUser.north west);
\draw[agg] (ILIAS.south) to[vv] node[lbl,pos=0.5]{+\$ilias} ([xshift=-0.2cm]ilLanguage.north);
\draw[agg] (ilErrorHandling.south) .. controls +(0,-15) and +(-3,3) .. node[lbl,pos=0.45]{\#\$error} ([yshift=-2.2cm]ilObject.north west);
\draw[agg] (ilLogger.south) .. controls +(-2,-12) and +(0,6) .. node[lbl,pos=0.4]{\#\$obj\_log\\\#\$log} ([xshift=-0.5cm]ilObject.north);
\draw[agg] (bool.south east) .. controls +(6,-25) and +(10,2) .. node[lbl,pos=0.55]{\#\$profile\_incomplete\\\#\$passwd\_policy\_reset\\\#\$time\_limit\_unlimited\\-\$is\_self\_registered} ([yshift=-2.5cm]ilObjUser.north east);
\draw[agg] (const.south) .. controls +(0,-25) and +(12,2) .. node[lbl,pos=0.55]{+PASSWD\_CRYPTED\\+NO\_AVATAR\_RID\\+PASSWD\_PLAIN} ([yshift=-2.6cm]ilObjUser.north east);
\draw[agg] (int.south) .. controls +(0,-25) and +(14,2) .. node[lbl,pos=0.5]{\#\$time\_limit\_owner\\+\$active\\\#\$time\_limit\_from\\\#\$time\_limit\_until\\+\$login\_attempts\\+\$last\_password\_change\_ts} ([yshift=-2.7cm]ilObjUser.north east);
\draw[agg] (string.south west) .. controls +(-3,-25) and +(0,10) .. node[lbl,pos=0.55]{\#\$root\_block\_element} ([xshift=0.1cm]ilRTE.north);
\draw[agg] (ilCachedLanguage.south) to[vv] node[lbl,pos=0.4]{\#\$global\_cache} (ilLanguage.north);
\draw[agg] (ILIAS.south east) .. controls +(0,-10) and +(0,6) .. node[lbl,pos=0.5]{\#\$ilias} ([xshift=-0.6cm]ilObject.north);
\draw[agg] (ilObjDef.south) .. controls +(0,-10) and +(0,6) .. node[lbl,pos=0.5]{\#\$obj\_definition} ([xshift=-0.4cm]ilObject.north);
\draw[agg] (ilAppEventHandler.south) .. controls +(0,-8) and +(0,6) .. node[lbl,pos=0.45]{\#\$app\_event\_handler} ([xshift=0.1cm]ilObject.north);
\draw[agg] (ilRbacReview.south) .. controls +(0,-10) and +(6,2) .. node[lbl,pos=0.25]{\#\$rbac\_review} ([yshift=-3.0cm]ilObject.north east);
\draw[agg] (int.south) .. controls +(0,-35) and +(20,2) .. node[lbl,pos=0.3]{\#\$initialWidth} ([yshift=-1.2cm]ilRTE.north east);
\draw[agg] (ilTree.south) to[vv] node[lbl,pos=0.4]{\#\$tree} ([xshift=0.4cm]ilObject.north);
\draw[agg] (ilRbacAdmin.south) .. controls +(0,-8) and +(5,2) .. node[lbl,pos=0.4]{\#\$rbac\_admin} ([yshift=-3.2cm]ilObject.north east);
\draw[agg] (ilCtrlInterface.south) .. controls +(0,-30) and +(20,2) .. node[lbl,pos=0.3]{\#\$ctrl} ([yshift=-1.3cm]ilRTE.north east);
\draw[agg] (ilGTI.south) .. controls +(0,-25) and +(20,2) .. node[lbl,pos=0.25]{\#\$tpl} ([yshift=-1.4cm]ilRTE.north east);
\draw[agg] (ilLanguage.south west) .. controls +(-2,-8) and +(6,3) .. node[lbl,pos=0.5]{\#\$lng} ([yshift=-1.5cm]ilRTE.north east);
\draw[agg] (ilLanguage.south east) .. controls +(2,-3) and +(-4,1) .. node[lbl,pos=0.5]{\#\$lng} ([yshift=-3.1cm]ilObject.north west);
\draw[agg] (TransRepo.south) .. controls +(0,-1.5) and +(1,1) .. node[lbl,pos=0.4]{-\$translations\_repository} ([yshift=-0.1cm]ilObject.north east);
\draw[agg] (LOM.south) .. controls +(0,-4) and +(3,0.5) .. node[lbl,pos=0.3]{\#\$lom\_services} ([yshift=-3.4cm]ilObject.north east);
\draw[agg] (Properties.south) .. controls +(0,-4) and +(4,0.5) .. node[lbl,pos=0.2]{-\$object\_properties} ([yshift=-3.5cm]ilObject.north east);
\draw[agg] (Aggregator.south) .. controls +(0,-4) and +(5,0.5) .. node[lbl,pos=0.2]{-\$properties\_aggregator} ([yshift=-3.6cm]ilObject.north east);
\draw[agg] (ilCron.south) .. controls +(0,-10) and +(10,1) .. node[lbl,pos=0.2]{-\$cron\_delete\_user\\\_reminder\_mail} ([yshift=-2.9cm]ilObjUser.north east);
\draw[agg] (DateFormatFactory.south) .. controls +(0,-5) and +(-3,1) .. node[lbl,pos=0.5]{\#\$date\_format\_factory} ([yshift=-3.2cm]ilObjUser.north west);
\draw[agg] (Services.south) .. controls +(5,-8) and +(-8,2) .. node[lbl,pos=0.5]{\$irss} ([yshift=-2.9cm]ilObjUser.north west);
\draw[agg] (ilObjUser.east) .. controls +(2,1) and +(-1,-2) .. node[lbl,pos=0.5]{\#\$user} ([yshift=-5.8cm]ilObject.west);
\draw[agg] (ilObjUser.south west) .. controls +(-3,-1) and +(3,1) .. node[lbl,pos=0.5]{\#\$user} ([yshift=-1.9cm]ilRTE.north east);
\coordinate (lc1) at (0.1,-10);
\coordinate (lc2) at (0.1,-40);
\draw[agg] (array.west) .. controls +(-10,-2) and +(0,4) .. (lc1) -- (lc2) .. controls +(0,-3) and +(-10,1) .. ([yshift=-0.4cm]ilRTE.north west);
\node[lbl] (pluglbl) at (0.65,-22.0) {\#\$plugins\\\#\$buttons\\\#\$disabled\_buttons};
\end{tikzpicture}
\end{document}
